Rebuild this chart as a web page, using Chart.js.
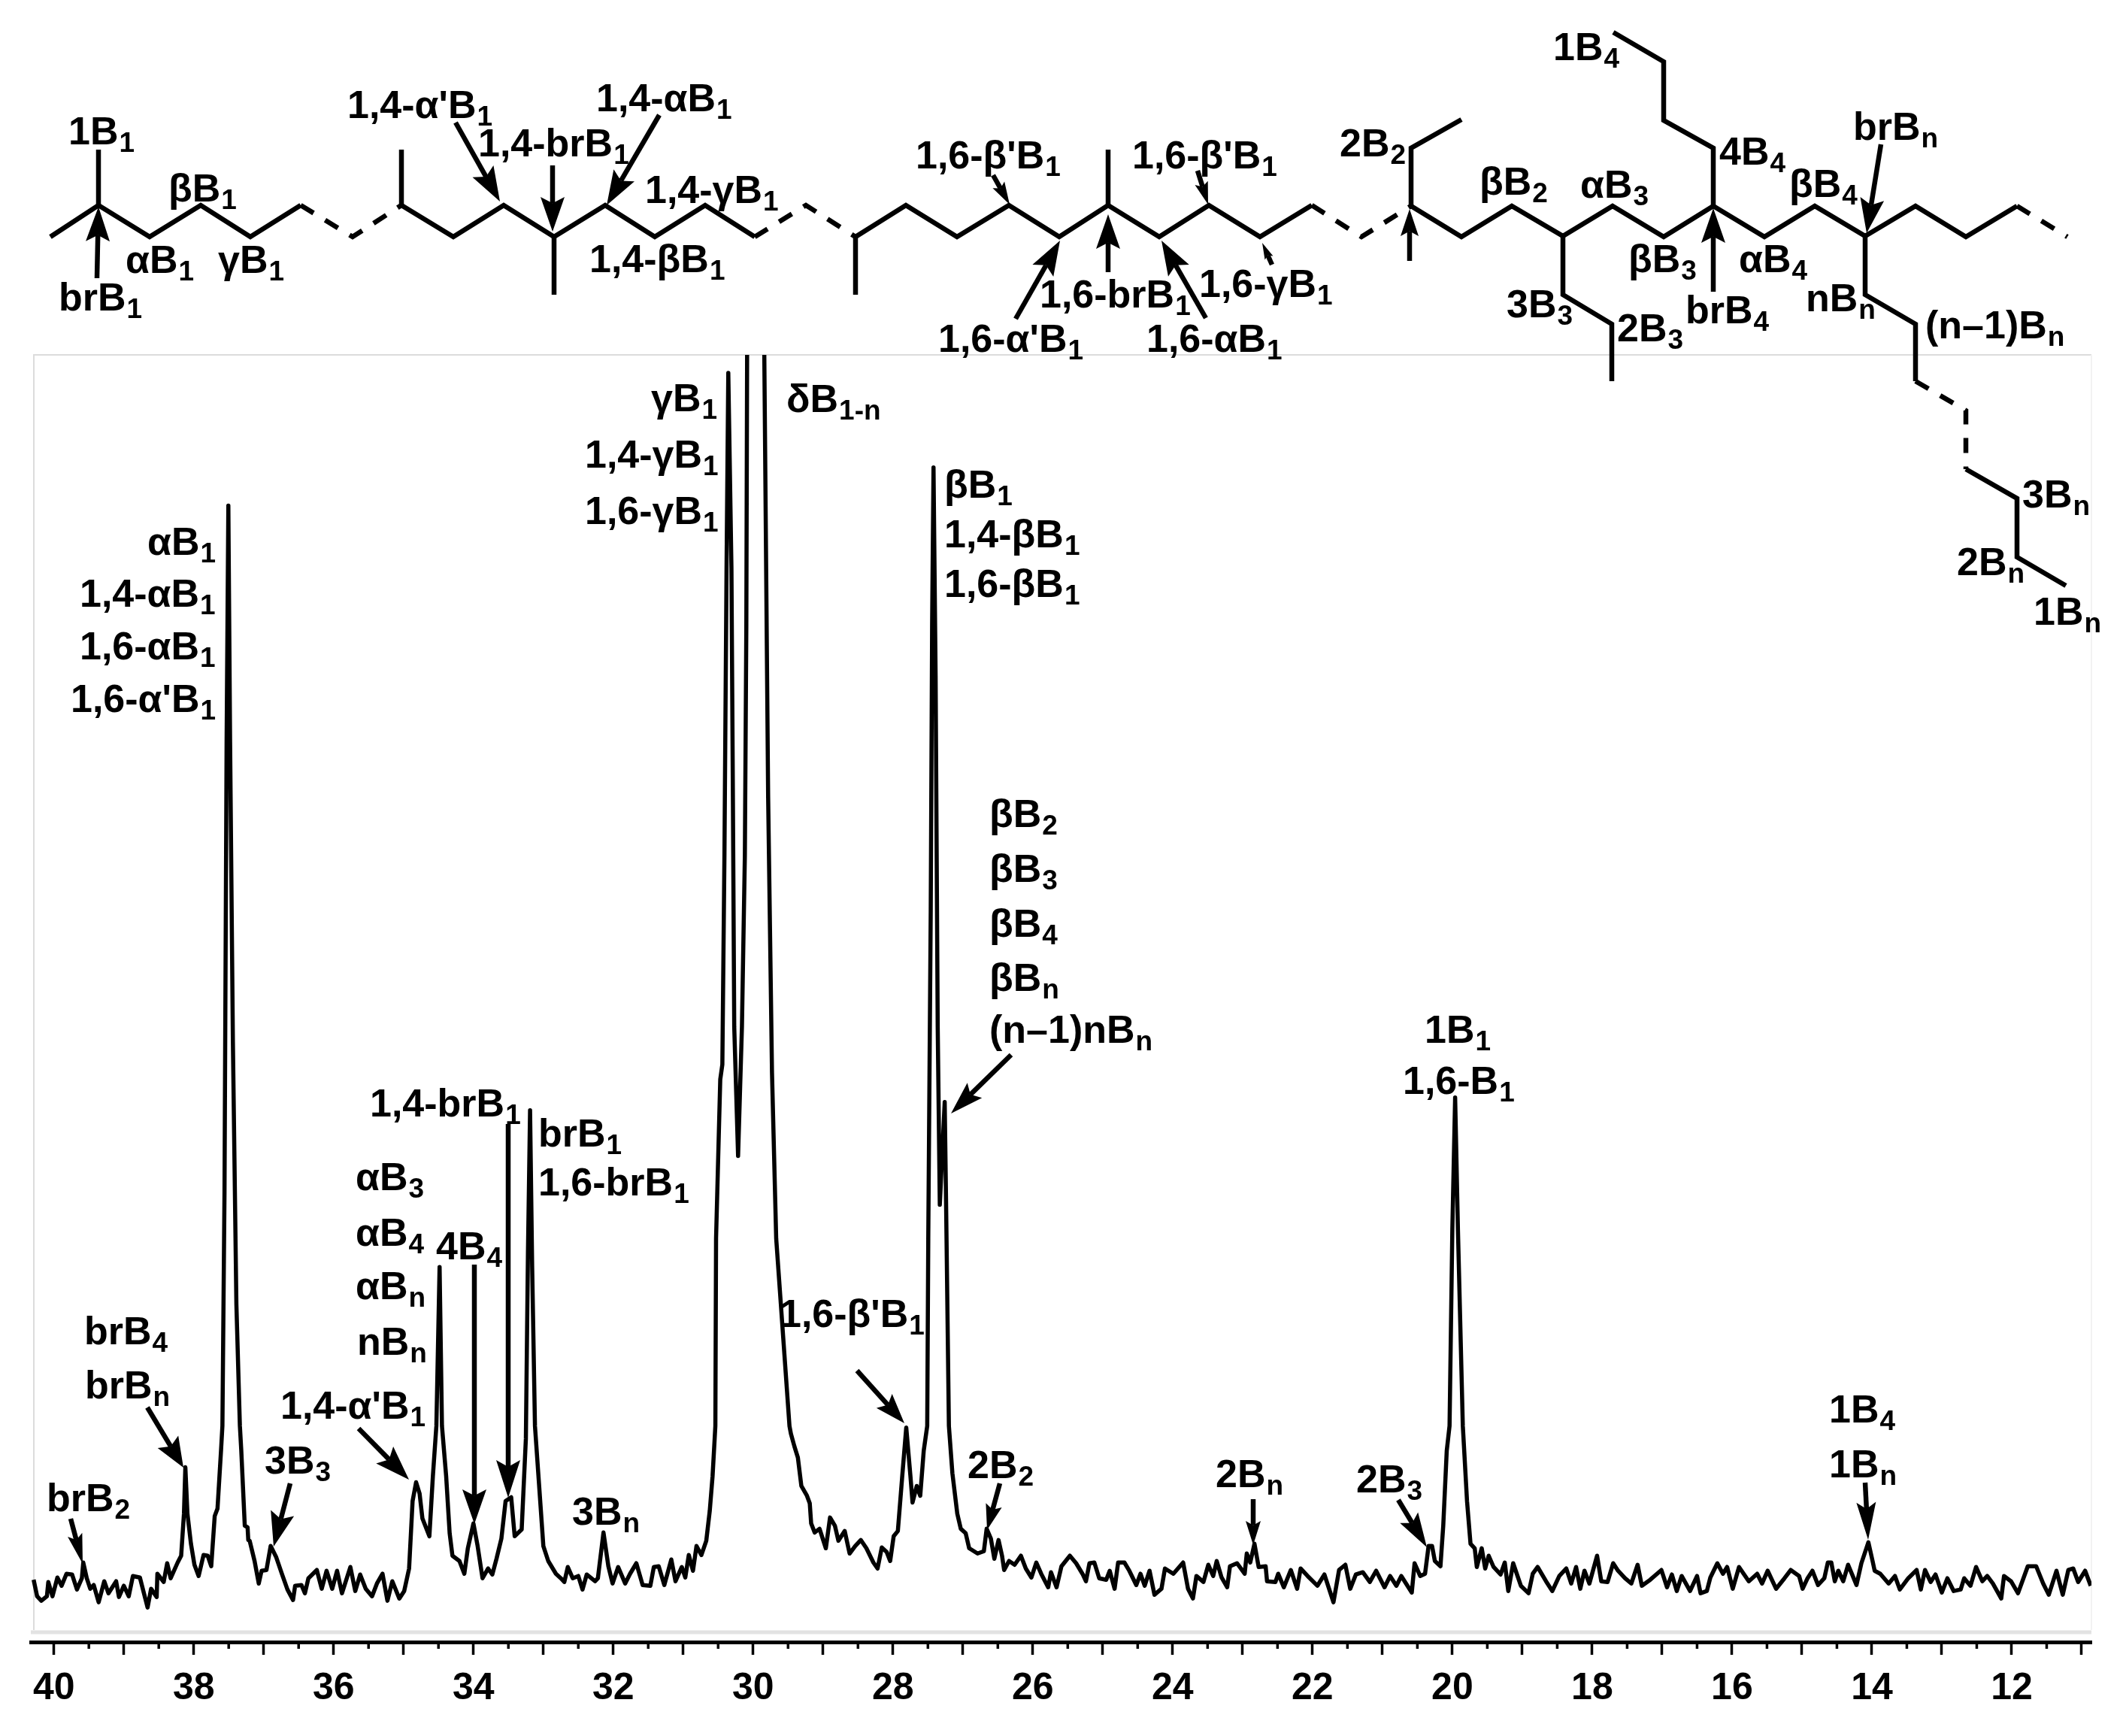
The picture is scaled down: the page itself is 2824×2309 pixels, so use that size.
<!DOCTYPE html>
<html>
<head>
<meta charset="utf-8">
<title>13C NMR spectrum</title>
<script src="https://cdn.jsdelivr.net/npm/chart.js@4/dist/chart.umd.min.js"></script>
<style>
  html, body { margin: 0; padding: 0; background: #fff; }
  canvas { display: block; }
</style>
</head>
<body>
<canvas id="spectrum" width="2824" height="2309"></canvas>
<script>
// values, chemical shift in ppm and signal height (arbitrary units)
const shifts = [
  40.29,40.24,40.18,40.10,40.08,40.02,39.95,39.89,39.82,39.74,39.67,39.60,39.58,39.53,39.48,39.43,39.36,39.28,39.22,39.11,
  39.07,39.00,38.93,38.87,38.77,38.66,38.61,38.53,38.52,38.43,38.38,38.33,38.23,38.18,38.14,38.12,38.09,38.04,37.99,37.93,
  37.86,37.80,37.75,37.70,37.66,37.61,37.59,37.56,37.53,37.505,37.48,37.44,37.39,37.34,37.32,37.27,37.23,37.22,37.20,37.13,
  37.07,37.03,36.96,36.90,36.82,36.74,36.66,36.58,36.55,36.46,36.41,36.36,36.24,36.17,36.10,36.02,35.95,35.88,35.76,35.69,
  35.62,35.54,35.45,35.38,35.30,35.23,35.16,35.06,34.99,34.92,34.87,34.82,34.77,34.73,34.63,34.58,34.53,34.484,34.45,34.39,
  34.34,34.30,34.20,34.13,34.08,34.00,33.94,33.87,33.79,33.73,33.67,33.60,33.54,33.46,33.41,33.31,33.25,33.22,33.19,33.16,
  33.12,33.00,32.93,32.82,32.75,32.70,32.65,32.58,32.50,32.44,32.38,32.26,32.22,32.14,32.07,32.01,31.93,31.83,31.76,31.67,
  31.58,31.47,31.42,31.35,31.27,31.17,31.11,31.02,30.97,30.92,30.86,30.81,30.74,30.67,30.62,30.58,30.55,30.54,30.53,30.47,
  30.44,30.41,30.38,30.355,30.31,30.29,30.27,30.215,30.16,30.118,30.097,30.086,30.05,29.97,29.89,29.84,29.785,29.73,29.67,29.48,
  29.46,29.41,29.36,29.31,29.23,29.19,29.17,29.12,29.05,28.96,28.90,28.83,28.78,28.69,28.62,28.54,28.46,28.38,28.28,28.22,
  28.16,28.09,28.04,27.99,27.93,27.87,27.81,27.75,27.72,27.66,27.61,27.56,27.51,27.495,27.46,27.44,27.42,27.39,27.36,27.33,
  27.26,27.24,27.20,27.15,27.08,27.03,26.96,26.91,26.79,26.70,26.66,26.60,26.55,26.49,26.44,26.41,26.34,26.26,26.17,26.10,
  26.02,25.95,25.88,25.78,25.74,25.66,25.59,25.47,25.38,25.29,25.24,25.19,25.12,25.05,24.95,24.90,24.83,24.78,24.69,24.62,
  24.52,24.46,24.40,24.33,24.26,24.16,24.11,23.99,23.85,23.78,23.71,23.66,23.56,23.49,23.42,23.37,23.30,23.22,23.18,23.08,
  22.97,22.94,22.89,22.83,22.77,22.67,22.65,22.53,22.49,22.41,22.31,22.22,22.17,22.07,21.93,21.83,21.70,21.62,21.53,21.46,
  21.38,21.28,21.18,21.09,20.97,20.89,20.80,20.73,20.58,20.54,20.46,20.39,20.34,20.29,20.25,20.17,20.13,20.08,20.04,20.00,
  19.96,19.92,19.85,19.79,19.74,19.68,19.65,19.58,19.53,19.48,19.41,19.31,19.25,19.20,19.13,19.02,18.91,18.85,18.78,18.66,
  18.57,18.47,18.37,18.30,18.23,18.17,18.11,18.04,17.93,17.87,17.78,17.70,17.63,17.53,17.44,17.35,17.29,17.17,17.01,16.93,
  16.86,16.79,16.72,16.60,16.50,16.45,16.36,16.31,16.21,16.13,16.07,15.99,15.90,15.76,15.64,15.57,15.49,15.37,15.25,15.16,
  15.04,14.99,14.92,14.85,14.77,14.68,14.63,14.58,14.53,14.48,14.41,14.34,14.22,14.15,14.05,13.99,13.96,13.88,13.76,13.67,
  13.60,13.48,13.36,13.30,13.24,13.16,13.09,13.00,12.92,12.83,12.73,12.68,12.59,12.51,12.42,12.35,12.27,12.15,12.11,12.01,
  11.91,11.77,11.65,11.55,11.47,11.36,11.27,11.19,11.12,11.05,10.95,10.87
];
const intensities = [
  83,61,55,61,80,61,86,75,91,90,70,85,106,85,71,76,53,81,65,81,
  60,75,61,88,86,46,71,60,91,80,105,85,106,115,171,233,171,131,103,88,
  116,115,101,168,178,255,288,600,1200,1515,1200,800,450,288,255,155,153,136,135,108,
  78,95,96,128,113,91,70,56,75,76,65,85,96,71,95,71,95,65,100,68,
  90,71,61,78,91,55,81,58,68,98,188,213,198,165,141,221,288,500,288,221,
  145,115,108,91,125,158,128,85,98,90,111,138,188,193,141,150,271,520,709,500,
  288,128,108,91,85,80,100,85,88,70,90,81,85,146,101,78,100,78,91,105,
  76,75,100,101,76,110,81,100,86,116,95,128,116,135,175,221,271,288,538,750,
  770,1050,1432,1692,1432,1139,820,648,820,1049,1356,1715,1950,2300,1950,1715,1126,759,538,288,
  278,261,246,208,195,185,158,146,151,125,166,155,135,148,118,128,136,125,106,98,
  126,120,108,141,148,218,286,221,186,208,195,255,288,538,973,1356,1566,1288,820,583,
  720,583,288,225,171,151,145,125,118,121,151,138,111,136,115,96,108,103,115,98,
  86,106,91,73,93,73,101,115,105,91,81,105,106,85,83,95,71,106,106,95,
  76,91,75,95,63,71,98,91,106,71,58,88,80,103,88,108,86,73,101,105,
  91,118,106,131,100,101,81,80,91,73,96,71,98,88,75,90,53,96,103,71,
  90,93,80,95,73,88,75,88,66,105,88,91,128,128,108,101,155,255,288,550,
  726,550,288,188,131,125,100,125,98,115,100,90,106,68,105,75,65,91,100,81,
  68,88,98,78,100,71,95,78,115,81,80,105,95,85,78,103,75,83,96,73,
  90,68,88,68,88,65,68,86,105,91,100,71,100,81,91,78,95,71,85,96,
  88,71,85,95,76,85,106,106,81,95,81,103,76,105,133,108,95,91,78,88,
  70,85,96,70,96,80,90,66,85,68,70,85,75,100,81,88,78,58,88,81,
  65,101,101,78,63,95,63,96,98,80,95,75
];
const majorTicks = [40,39,38,37,36,35,34,33,32,31,30,29,28,27,26,25,24,23,22,21,20,19,18,17,16,15,14,13,12,11];
const minorTicks = [39.5,38.5,37.5,36.5,35.5,34.5,33.5,32.5,31.5,30.5,29.5,28.5,27.5,26.5,25.5,24.5,23.5,22.5,21.5,20.5,19.5,18.5,17.5,16.5,15.5,14.5,13.5,12.5,11.5];
const labelledTicks = [40,38,36,34,32,30,28,26,24,22,20,18,16,14,12];

const FONT = '"Liberation Sans", Arial, sans-serif';
const MAIN_SIZE = 52;
const SUB_SIZE = 37;

// text, subscript, left, baseline
const spectrumLabels = [
  ['αB', '1', 196, 738], ['1,4-αB', '1', 106, 807], ['1,6-αB', '1', 106, 877], ["1,6-α'B", '1', 94, 947],
  ['γB', '1', 866, 547], ['1,4-γB', '1', 778, 622], ['1,6-γB', '1', 778, 697], ['δB', '1-n', 1046, 548],
  ['βB', '1', 1256, 662], ['1,4-βB', '1', 1256, 728], ['1,6-βB', '1', 1256, 794],
  ['βB', '2', 1316, 1100], ['βB', '3', 1316, 1173], ['βB', '4', 1316, 1246], ['βB', 'n', 1316, 1318], ['(n–1)nB', 'n', 1316, 1387],
  ['1,4-brB', '1', 492, 1485], ['brB', '1', 716, 1525], ['1,6-brB', '1', 716, 1590],
  ['αB', '3', 473, 1583], ['αB', '4', 473, 1657], ['4B', '4', 580, 1675], ['αB', 'n', 473, 1728], ['nB', 'n', 475, 1802],
  ["1,4-α'B", '1', 373, 1887], ['brB', '4', 112, 1788], ['brB', 'n', 113, 1860], ['brB', '2', 62, 2010],
  ['3B', '3', 352, 1960], ['3B', 'n', 761, 2028], ['2B', '2', 1287, 1966], ['2B', 'n', 1617, 1978], ['2B', '3', 1804, 1985],
  ['1B', '4', 2433, 1892], ['1B', 'n', 2433, 1965], ["1,6-β'B", '1', 1037, 1765], ['1B', '1', 1895, 1387], ['1,6-B', '1', 1866, 1455]
];
const structureLabels = [
  ['1B', '1', 91, 192], ['βB', '1', 224, 268], ['αB', '1', 167, 363], ['γB', '1', 290, 363], ['brB', '1', 78, 413],
  ["1,4-α'B", '1', 462, 157], ['1,4-brB', '1', 636, 208], ['1,4-αB', '1', 793, 148], ['1,4-γB', '1', 858, 270], ['1,4-βB', '1', 784, 362],
  ["1,6-β'B", '1', 1218, 224], ["1,6-β'B", '1', 1506, 224], ['2B', '2', 1782, 208], ['1,6-brB', '1', 1383, 409], ['1,6-γB', '1', 1595, 395],
  ["1,6-α'B", '1', 1248, 468], ['1,6-αB', '1', 1525, 468],
  ['1B', '4', 2066, 80], ['4B', '4', 2287, 219], ['brB', 'n', 2465, 186], ['βB', '2', 1968, 259], ['αB', '3', 2102, 263], ['βB', '4', 2380, 262],
  ['βB', '3', 2166, 362], ['αB', '4', 2313, 362], ['3B', '3', 2004, 422], ['2B', '3', 2151, 454], ['brB', '4', 2242, 430], ['nB', 'n', 2402, 414],
  ['(n–1)B', 'n', 2561, 450], ['3B', 'n', 2690, 675], ['2B', 'n', 2603, 765], ['1B', 'n', 2705, 831]
];
// tail x, tail y, tip x, tip y, head length, head half width
const arrows = [
  [129,370,131,275,46,16], [606,163,665,268,46,16], [735,220,735,308,46,16], [877,153,807,273,46,16],
  [1321,233,1343,272,30,9], [1593,227,1607,272,30,9], [1351,424,1410,320,46,16], [1474,362,1474,285,46,16], [1604,423,1545,320,46,16],
  [1692,352,1679,323,22,6], [1875,347,1875,278,36,12], [2279,388,2279,277,46,16], [2502,192,2483,310,46,16],
  [94,2020,110,2080,40,10], [196,1872,244,1952,40,16], [386,1973,364,2057,46,16], [477,1900,544,1968,46,16],
  [631,1682,631,2027,46,16], [676,1495,676,1992,50,16], [1140,1823,1203,1893,40,14], [1330,1973,1313,2035,34,11],
  [1667,1994,1667,2055,32,10], [1860,1995,1898,2058,46,14], [2481,1972,2485,2048,50,13], [1345,1403,1265,1481,44,14]
];
const solidBonds = [
  [[67,315],[131,273],[199,315],[267,273],[333,315],[400,273]],
  [[534,273],[603,315],[670,273],[737,315],[805,273],[871,315],[938,273],[1004,315]],
  [[1138,315],[1205,273],[1273,315],[1342,273],[1409,315],[1474,273],[1542,315],[1608,273],[1676,315],[1745,273]],
  [[1877,274],[1944,315],[2011,274],[2079,314],[2145,274],[2213,315],[2279,274],[2347,315],[2414,274],[2481,314],[2548,274],[2615,315],[2683,274]],
  [[131,273],[131,199]], [[534,273],[534,199]], [[737,315],[737,392]], [[1138,315],[1138,392]], [[1474,273],[1474,199]],
  [[1877,274],[1877,197],[1944,159]],
  [[2079,314],[2079,392],[2144,431],[2144,507]],
  [[2279,274],[2279,197],[2213,160],[2213,82],[2146,43]],
  [[2481,314],[2481,392],[2548,431],[2548,507]],
  [[2615,624],[2683,663],[2683,741],[2748,779]]
];
const dashedBonds = [
  [[400,273],[469,315],[534,273]],
  [[1004,315],[1072,273],[1138,315]],
  [[1745,273],[1811,315],[1877,274]],
  [[2683,274],[2750,315]],
  [[2548,507],[2615,546],[2615,624]]
];

function drawRichLabel(ctx, item) {
  const [text, sub, x, y] = item;
  ctx.font = 'bold ' + MAIN_SIZE + 'px ' + FONT;
  ctx.fillText(text, x, y);
  const w = ctx.measureText(text).width;
  ctx.font = 'bold ' + SUB_SIZE + 'px ' + FONT;
  ctx.fillText(sub, x + w + 1, y + 10);
}

function drawArrow(ctx, a) {
  const [x0, y0, x1, y1, headLen, headHalf] = a;
  const ang = Math.atan2(y1 - y0, x1 - x0);
  const c = Math.cos(ang), s = Math.sin(ang);
  const notch = headLen * 0.82;
  ctx.lineWidth = 6.5;
  ctx.lineCap = 'butt';
  ctx.beginPath();
  ctx.moveTo(x0, y0);
  ctx.lineTo(x1 - c * notch, y1 - s * notch);
  ctx.stroke();
  ctx.beginPath();
  ctx.moveTo(x1, y1);
  ctx.lineTo(x1 - c * headLen - s * headHalf, y1 - s * headLen + c * headHalf);
  ctx.lineTo(x1 - c * notch, y1 - s * notch);
  ctx.lineTo(x1 - c * headLen + s * headHalf, y1 - s * headLen - c * headHalf);
  ctx.closePath();
  ctx.fill();
}

function drawBond(ctx, pts) {
  ctx.beginPath();
  pts.forEach((p, i) => i ? ctx.lineTo(p[0], p[1]) : ctx.moveTo(p[0], p[1]));
  ctx.stroke();
}

const framePlugin = {
  id: 'frame',
  beforeDatasetsDraw(chart) {
    const ctx = chart.ctx;
    const area = chart.chartArea;
    ctx.save();
    ctx.strokeStyle = '#dcdcdc';
    ctx.lineWidth = 2;
    ctx.beginPath();
    ctx.moveTo(45, 2168);
    ctx.lineTo(45, area.top);
    ctx.lineTo(area.right, area.top);
    ctx.stroke();
    ctx.strokeStyle = '#f2f2f2';
    ctx.beginPath();
    ctx.moveTo(area.right, area.top);
    ctx.lineTo(area.right, 2168);
    ctx.stroke();
    ctx.strokeStyle = '#e2e2e2';
    ctx.lineWidth = 5;
    ctx.beginPath();
    ctx.moveTo(area.left, area.bottom - 13);
    ctx.lineTo(area.right, area.bottom - 13);
    ctx.stroke();
    ctx.restore();
  }
};

const annotationPlugin = {
  id: 'annotations',
  afterDraw(chart) {
    const ctx = chart.ctx;
    const xScale = chart.scales.x;
    const bottom = chart.chartArea.bottom;
    ctx.save();
    ctx.strokeStyle = '#000';
    ctx.fillStyle = '#000';

    // half-ppm ticks, shorter than the ones the axis draws
    ctx.lineWidth = 3.5;
    minorTicks.forEach(v => {
      const px = xScale.getPixelForValue(v);
      ctx.beginPath();
      ctx.moveTo(px, bottom);
      ctx.lineTo(px, bottom + 9);
      ctx.stroke();
    });

    ctx.lineWidth = 6.5;
    ctx.lineJoin = 'miter';
    solidBonds.forEach(b => drawBond(ctx, b));
    ctx.setLineDash([20, 18]);
    dashedBonds.forEach(b => drawBond(ctx, b));
    ctx.setLineDash([]);

    arrows.forEach(a => drawArrow(ctx, a));

    ctx.textBaseline = 'alphabetic';
    ctx.textAlign = 'left';
    spectrumLabels.forEach(l => drawRichLabel(ctx, l));
    structureLabels.forEach(l => drawRichLabel(ctx, l));
    ctx.restore();
  }
};

new Chart(document.getElementById('spectrum').getContext('2d'), {
  type: 'line',
  data: {
    datasets: [{
      data: shifts.map((x, i) => ({ x: x, y: intensities[i] })),
      borderColor: '#000',
      borderWidth: 5.5,
      borderJoinStyle: 'round',
      pointRadius: 0,
      tension: 0,
      clip: 0
    }]
  },
  options: {
    responsive: false,
    animation: false,
    layout: { padding: { left: 41, right: 42, top: 472, bottom: 18 } },
    plugins: { legend: { display: false }, tooltip: { enabled: false } },
    scales: {
      x: {
        type: 'linear',
        reverse: true,
        min: 10.86,
        max: 40.33,
        afterBuildTicks(scale) {
          scale.ticks = majorTicks.map(v => ({ value: v }));
        },
        border: { display: true, color: '#000', width: 5 },
        grid: { drawOnChartArea: false, drawTicks: true, tickLength: 17, tickWidth: 3.5, tickColor: '#000' },
        ticks: {
          autoSkip: false,
          maxRotation: 0,
          padding: 15,
          color: '#000',
          font: { family: FONT, size: 50, weight: 'bold' },
          callback: v => labelledTicks.includes(v) ? String(v) : ''
        }
      },
      y: { display: false, min: 0, max: 1716 }
    }
  },
  plugins: [framePlugin, annotationPlugin]
});
</script>
</body>
</html>
